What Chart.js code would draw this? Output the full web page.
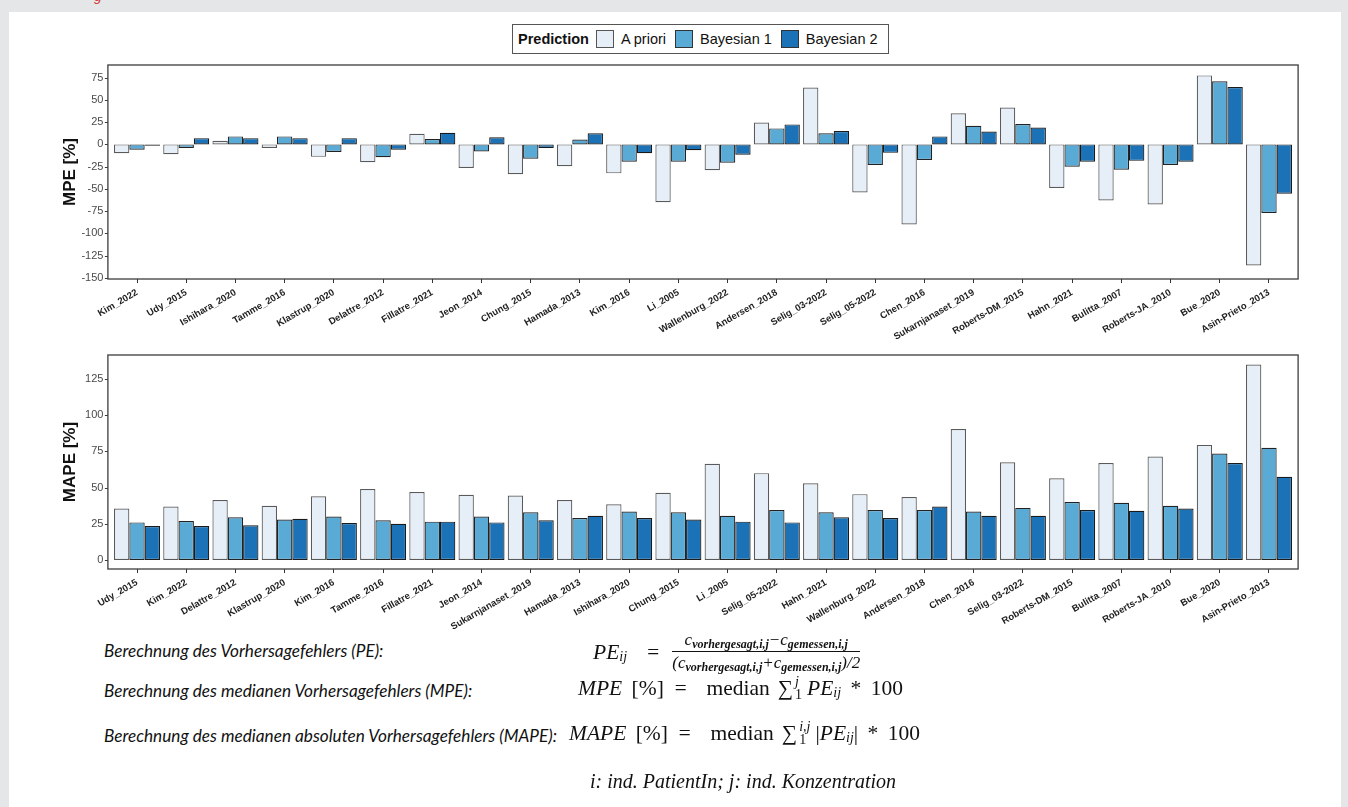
<!DOCTYPE html>
<html>
<head>
<meta charset="utf-8">
<script src="https://cdn.jsdelivr.net/npm/chart.js@4.4.1/dist/chart.umd.min.js"></script>
<style>
  html, body { margin: 0; padding: 0; }
  body { width: 1348px; height: 807px; background: #e5e6e8; position: relative; overflow: hidden; font-family: "Liberation Sans", Arial, sans-serif; }
  .card { position: absolute; left: 9px; top: 12px; width: 1332px; height: 800px; background: #fff; }
  .mark { position: absolute; left: 94px; top: -12px; color: #d23a3a; font: italic 14px "Liberation Sans", sans-serif; }
  .panel { position: absolute; left: 0; width: 1348px; }
  .legend { position: absolute; left: 512px; top: 24px; width: 375px; height: 28px; border: 1.5px solid #555; display: flex; align-items: center; font-size: 14.5px; color: #111; white-space: nowrap; }
  .legend span { flex: none; }
  .legend b { margin-left: 5px; margin-right: 4px; flex: none; }
  .legend .sw { width: 16px; height: 16px; border: 1.2px solid #333; margin: 0 7px 0 3px; }
  .txt { position: absolute; left: 104px; font: italic 17.2px Lato, sans-serif; color: #111; white-space: nowrap; }
  .math { position: absolute; font: italic 21.5px "Liberation Serif", serif; color: #111; white-space: nowrap; display: flex; align-items: center; word-spacing: 4px; }
  .math .up { font-style: normal; }
  .math sub { font-size: 14px; position: relative; top: 5px; vertical-align: baseline; }
  .frac { display: inline-flex; flex-direction: column; align-items: center; font-size: 17px; margin-left: 12px; line-height: 19px; }
  .frac .den { border-top: 1px solid #111; padding-top: 1px; }
  .frac sub { font-size: 12px; top: 3px; font-weight: bold; }
  .sum { display: inline-flex; align-items: center; margin: 0 5px 0 8px; }
  .lims { display: inline-flex; flex-direction: column; font-size: 14px; line-height: 13px; margin-left: 2px; }
</style>
</head>
<body>
<div class="card"></div>
<div class="mark">g</div>

<div class="legend"><b>Prediction</b><span class="sw" style="background:#e6eef8;border-color:#555"></span><span>A priori</span><span class="sw" style="background:#5aaad6;margin-left:9px"></span><span>Bayesian 1</span><span class="sw" style="background:#1c72b6;margin-left:9px"></span><span>Bayesian 2</span></div>

<div class="panel" style="top:60px;height:290px"><canvas id="mpeChart"></canvas></div>
<div class="panel" style="top:350px;height:290px"><canvas id="mapeChart"></canvas></div>

<div class="txt" style="top:640px">Berechnung des Vorhersagefehlers (PE):</div>
<div class="math" style="left:593px;top:630px">PE<sub>ij</sub>&nbsp;&nbsp;=
  <span class="frac"><span>c<sub>vorhergesagt,i,j</sub>−c<sub>gemessen,i,j</sub></span><span class="den">(c<sub>vorhergesagt,i,j</sub>+c<sub>gemessen,i,j</sub>)/2</span></span>
</div>

<div class="txt" style="top:680px">Berechnung des medianen Vorhersagefehlers (MPE):</div>
<div class="math" style="left:578px;top:675px">MPE&nbsp;<span class="up">[%]</span>&nbsp;=&nbsp;&nbsp;<span class="up">median</span><span class="sum"><span class="up">∑</span><span class="lims"><span>j</span><span class="up">1</span></span></span>PE<sub>ij</sub>&nbsp;<span class="up">* 100</span></div>

<div class="txt" style="top:725px">Berechnung des medianen absoluten Vorhersagefehlers (MAPE):</div>
<div class="math" style="left:569px;top:720px">MAPE&nbsp;<span class="up">[%]</span>&nbsp;=&nbsp;&nbsp;<span class="up">median</span><span class="sum"><span class="up">∑</span><span class="lims"><span>i,j</span><span class="up">1</span></span></span><span class="up">|</span>PE<sub>ij</sub><span class="up">|</span>&nbsp;<span class="up">* 100</span></div>

<div class="math" style="left:590px;top:770px;font-size:20px;word-spacing:0">i: ind. PatientIn; j: ind. Konzentration</div>

<script>
const seriesNames = ["A priori", "Bayesian 1", "Bayesian 2"];
const fillColors = ["#e6eef8", "#5aaad6", "#1c72b6"];
const edgeColors = ["#5a5a5a", "#222222", "#1a1a1a"];

// top panel: median prediction error
const mpeLabels = ["Kim_2022", "Udy_2015", "Ishihara_2020", "Tamme_2016", "Klastrup_2020", "Delattre_2012",
  "Fillatre_2021", "Jeon_2014", "Chung_2015", "Hamada_2013", "Kim_2016", "Li_2005", "Wallenburg_2022",
  "Andersen_2018", "Selig_03-2022", "Selig_05-2022", "Chen_2016", "Sukarnjanaset_2019", "Roberts-DM_2015",
  "Hahn_2021", "Bulitta_2007", "Roberts-JA_2010", "Bue_2020", "Asin-Prieto_2013"];
const mpeApriori = [-10, -11, 4, -4, -14, -20, 12, -26.5, -33.5, -24.5, -32.5, -65, -29, 24.5, 64, -54, -90, 35, 41.5, -49, -63, -67.5, 77.5, -136];
const mpeBayes1 = [-6, -4, 9, 9, -8.5, -14.5, 6, -8, -16, 5.5, -19.5, -19.5, -20.5, 18, 12.5, -23, -17.5, 21, 23, -25, -28.5, -23, 71, -77];
const mpeBayes2 = [-1.5, 7, 7, 7, 7, -6, 13, 8, -4, 12.5, -10, -6.5, -11.5, 22.5, 15, -9.5, 9, 14.5, 19, -19.5, -18.5, -19.5, 64.5, -55.5];
const mpeTicks = [75, 50, 25, 0, -25, -50, -75, -100, -125, -150];

// bottom panel: median absolute prediction error
const mapeLabels = ["Udy_2015", "Kim_2022", "Delattre_2012", "Klastrup_2020", "Kim_2016", "Tamme_2016",
  "Fillatre_2021", "Jeon_2014", "Sukarnjanaset_2019", "Hamada_2013", "Ishihara_2020", "Chung_2015", "Li_2005",
  "Selig_05-2022", "Hahn_2021", "Wallenburg_2022", "Andersen_2018", "Chen_2016", "Selig_03-2022",
  "Roberts-DM_2015", "Bulitta_2007", "Roberts-JA_2010", "Bue_2020", "Asin-Prieto_2013"];
const mapeApriori = [35.5, 37, 41.5, 37.5, 44, 49, 47, 45, 44.5, 41.5, 38.5, 46.5, 66.5, 60, 53, 45.5, 43.5, 90.5, 67.5, 56.5, 67, 71.5, 79.5, 135];
const mapeBayes1 = [26, 27, 29.5, 28, 30, 27.5, 26.5, 30, 33, 29, 33.5, 33, 30.5, 34.5, 33, 34.5, 34.5, 33.5, 36, 40, 39.5, 37.5, 73.5, 77.5];
const mapeBayes2 = [23.5, 23.5, 24, 28.5, 25.5, 25, 26.5, 26, 27.5, 30.5, 29, 28, 26.5, 26, 29.5, 29, 37, 30.5, 30.5, 34.5, 34, 35.5, 67, 57.5];
const mapeTicks = [0, 25, 50, 75, 100, 125];

// ggplot-like panel border, a bit wider than the category band
const panelBox = {
    id: "panelBox",
    afterDraw(chart) {
        const { ctx, chartArea: a, scales } = chart;
        const L = a.left - 4.5, R = a.right + 4.5;
        ctx.save();
        ctx.strokeStyle = "#3c3c3c";
        ctx.lineWidth = 1.3;
        ctx.strokeRect(L, a.top, R - L, a.bottom - a.top);
        ctx.lineWidth = 1;
        scales.y.ticks.forEach(t => {
            const py = Math.round(scales.y.getPixelForValue(t.value)) + 0.5;
            ctx.beginPath();
            ctx.moveTo(L - 3, py);
            ctx.lineTo(L, py);
            ctx.stroke();
        });
        ctx.restore();
    },
};

function makePanel(id, labels, a, b1, b2, yMin, yMax, tickVals, title) {
    const ctx = document.getElementById(id);
    const values = [a, b1, b2];

    new Chart(ctx, {
        type: "bar",
        data: {
            labels: labels,
            datasets: values.map((v, i) => ({
                label: seriesNames[i],
                data: v,
                backgroundColor: fillColors[i],
                borderColor: edgeColors[i],
                borderWidth: 1.2,
                borderSkipped: false,
                barPercentage: 1,
                categoryPercentage: 0.935,
            })),
        },
        options: {
            responsive: true,
            maintainAspectRatio: false,
            animation: false,
            layout: {
                padding: { top: 5, right: 54.4, left: 0, bottom: 0 },
            },
            scales: {
                x: {
                    offset: true,
                    border: { display: false },
                    grid: {
                        drawOnChartArea: false,
                        offset: false,
                        tickLength: 4,
                        color: "#333",
                    },
                    ticks: {
                        autoSkip: false,
                        minRotation: 30,
                        maxRotation: 30,
                        padding: 4,
                        color: "#1e1e1e",
                        font: { family: "Liberation Sans", size: 9.5, weight: "bold" },
                    },
                    afterFit: s => {
                        s.height = 71;
                        s.paddingLeft = 0;
                        s.paddingRight = 0;
                    },
                },
                y: {
                    min: yMin,
                    max: yMax,
                    border: { display: false },
                    grid: { display: false, drawTicks: false },
                    afterBuildTicks: s => { s.ticks = tickVals.map(v => ({ value: v })); },
                    ticks: {
                        padding: 9,
                        color: "#4a4a4a",
                        font: { family: "Liberation Sans", size: 11 },
                    },
                    title: {
                        display: true,
                        text: title,
                        color: "#111",
                        padding: { top: 60, bottom: 0 },
                        font: { family: "Liberation Sans", size: 17, weight: "bold" },
                    },
                    afterFit: s => {
                        s.width = 112.4;
                        s.paddingTop = 0;
                        s.paddingBottom = 0;
                    },
                },
            },
            plugins: {
                legend: { display: false },
                tooltip: { enabled: true },
            },
        },
        plugins: [panelBox],
    });
}

makePanel("mpeChart", mpeLabels, mpeApriori, mpeBayes1, mpeBayes2, -151.2, 89.2, mpeTicks, "MPE [%]");
makePanel("mapeChart", mapeLabels, mapeApriori, mapeBayes1, mapeBayes2, -6.2, 141.6, mapeTicks, "MAPE [%]");
</script>
</body>
</html>
